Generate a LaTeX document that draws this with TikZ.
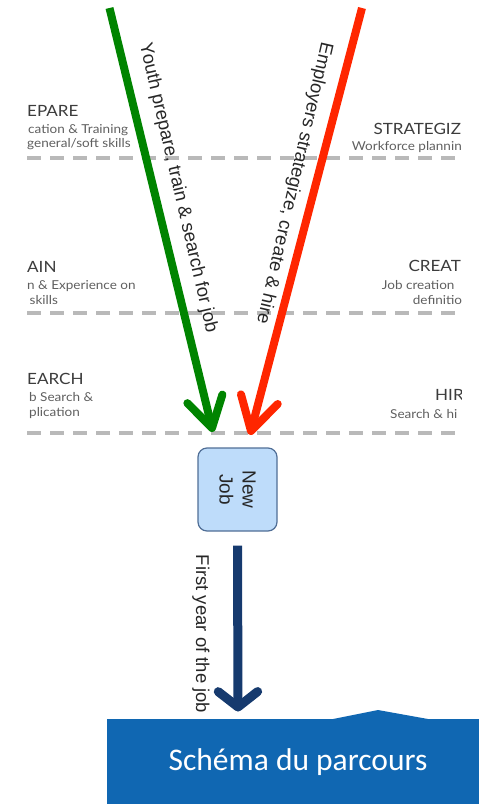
\documentclass[tikz,border=0pt]{standalone}
\usepackage{fontspec}
\setmainfont{Liberation Sans}
\newfontfamily\latofont[FakeStretch=1.1]{Lato}
\newfontfamily\calfont{Carlito}
\usetikzlibrary{calc}
\definecolor{ygreen}{RGB}{0,132,0}
\definecolor{ered}{RGB}{255,38,0}
\definecolor{navyc}{RGB}{22,58,110}
\definecolor{jobfill}{RGB}{190,220,250}
\definecolor{jobdraw}{RGB}{80,110,150}
\definecolor{banner}{RGB}{16,103,178}
\definecolor{dashgray}{RGB}{185,185,185}
\definecolor{headgray}{RGB}{60,60,60}
\definecolor{subgray}{RGB}{95,95,95}
\tikzset{
  head/.style={font=\latofont\fontsize{15.5}{18}\selectfont, text=headgray, inner sep=0pt, anchor=base west},
  sub/.style={font=\latofont\fontsize{12.3}{14}\selectfont, text=subgray, inner sep=0pt, anchor=base west},
  stage/.style={dashgray, line width=4pt, dash pattern=on 14pt off 9pt},
  flow/.style={line width=8pt},
  tipline/.style={line width=8pt, line cap=round, line join=round},
  rottext/.style={font=\fontsize{18.5}{22}\selectfont, inner sep=0pt, text=black!85},
}
\begin{document}
\begin{tikzpicture}[x=1pt,y=-1pt]
\useasboundingbox (0,0) rectangle (479,804);
% stage dashed lines
\coordinate (d1l) at (27,158); \coordinate (d1r) at (461,158);
\coordinate (d2l) at (27,313); \coordinate (d2r) at (461,313);
\coordinate (d3l) at (27,433); \coordinate (d3r) at (461,433);
\draw[stage] (d1l) -- (d1r);
\draw[stage] (d2l) -- (d2r);
\draw[stage] (d3l) -- (d3r);
% stage labels (clipped)
\begin{scope}
\clip (27,0) rectangle (461,804);
\node[head] (lp) at (27,116.5) {EPARE};
\node[sub] (lp1) at (28,133) {cation \& Training};
\node[sub] (lp2) at (27,147.5) {general/soft skills};
\node[head] (lt) at (27,272.5) {AIN};
\node[sub] (lt1) at (27,289) {n \& Experience on};
\node[sub] (lt2) at (29.5,304) {skills};
\node[head] (ls) at (27,384) {EARCH};
\node[sub] (ls1) at (29,401.5) {b Search \&};
\node[sub] (ls2) at (29,416) {plication};
\node[head] (rs) at (373.3,134) {STRATEGIZ};
\node[sub] (rs1) at (351.7,150.5) {Workforce plannin};
\node[head] (rc) at (408.3,271.7) {CREAT};
\node[sub] (rc1) at (381.7,289) {Job creation};
\node[sub] (rc2) at (412.7,304) {definitio};
\node[head] (rh) at (435,400.7) {HIR};
\node[sub] (rh1) at (390,418) {Search \& hi};
\end{scope}
% New Job box
\node[draw=jobdraw, fill=jobfill, line width=1.2pt, rounded corners=9pt,
      minimum width=79pt, minimum height=83pt, inner sep=0pt] (nj) at (237.5,489.5) {};
\node[rotate=-90, font=\fontsize{19}{23}\selectfont, align=center, text=black!85, inner sep=0pt] (njt) at (nj.center) {New\\Job};
% green arrow
\coordinate (gs) at (109.5,8);
\coordinate (gt) at (212,428);
\draw[flow, ygreen] (gs) -- (gt);
\draw[tipline, ygreen] ($(gt)!35pt!31:(gs)$) -- (gt) -- ($(gt)!35pt!-31:(gs)$);
\node[rottext, rotate=-77] (gtext) at (178,188) {Youth prepare, train \& search for job};
% red arrow
\coordinate (rs0) at (362,8);
\coordinate (rt) at (251,431);
\draw[flow, ered] (rs0) -- (rt);
\draw[tipline, ered] ($(rt)!38pt!30:(rs0)$) -- (rt) -- ($(rt)!38pt!-30:(rs0)$);
\node[rottext, rotate=-103] (rtext) at (294,183) {Employers strategize, create \& hire};
% navy arrow
\coordinate (nt) at (238,707);
\draw[flow, navyc, line width=9pt] ([yshift=-14pt]nj.south) -- (nt);
\draw[tipline, navyc, line width=9pt] ($(nt)!25pt!52:(nj.south)$) -- (nt) -- ($(nt)!25pt!-52:(nj.south)$);
\node[rottext, rotate=-90] (ntext) at (201,634) {First year of the job};
% banner
\fill[banner] (107,719) -- (333,719) -- (378,710) -- (428,719) -- (479,719) -- (479,804) -- (107,804) -- cycle;
\node[font=\calfont\fontsize{31.5}{36}\selectfont, text=white, inner sep=0pt] (ban) at (298,762) {Schéma du parcours};
\end{tikzpicture}
\end{document}
